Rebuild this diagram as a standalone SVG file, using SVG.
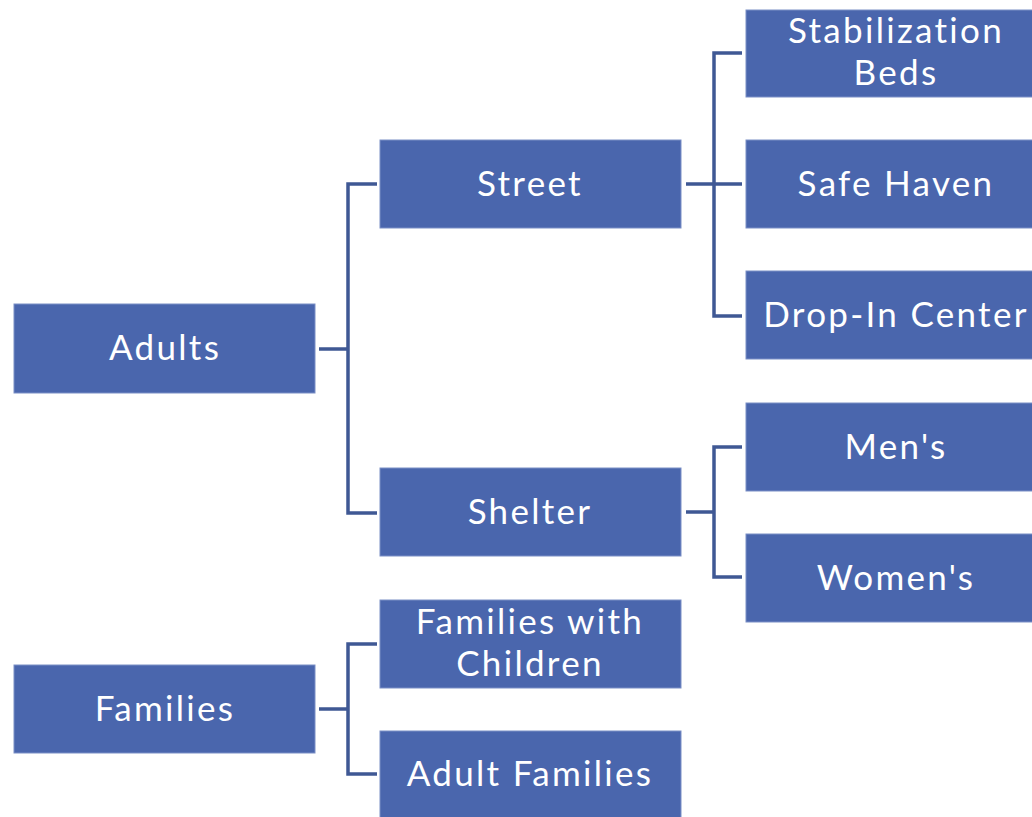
<svg xmlns="http://www.w3.org/2000/svg" width="1032" height="817" viewBox="0 0 1032 817">
<style>
.box{fill:#4a66ad;stroke:#7b8fc6;stroke-width:1}
.lbl{fill:#ffffff;font-family:"Lato","Open Sans",sans-serif;font-size:35px;text-anchor:middle;dominant-baseline:central;letter-spacing:2.3px}
.con{fill:none;stroke:#3f5894;stroke-width:3.5}
</style>
<rect width="1032" height="817" fill="#ffffff"/>
<g id="connectors">
<path class="con" d="M319 349H348M377 184H348V513H377"/>
<path class="con" d="M686 184H714M742 53H714V316H742M714 184H742"/>
<path class="con" d="M686 512H714M742 447H714V577H742"/>
<path class="con" d="M319 709H348M377 644H348V774H377"/>
</g>
<g id="adults"><rect class="box" x="14" y="304" width="301" height="89"/><text class="lbl" x="165" y="346">Adults</text></g>
<g id="families"><rect class="box" x="14" y="665" width="301" height="88"/><text class="lbl" x="165" y="707">Families</text></g>
<g id="street"><rect class="box" x="380" y="140" width="301" height="88"/><text class="lbl" x="530" y="182">Street</text></g>
<g id="shelter"><rect class="box" x="380" y="468" width="301" height="88"/><text class="lbl" x="530" y="510">Shelter</text></g>
<g id="families-with-children"><rect class="box" x="380" y="600" width="301" height="88"/><text class="lbl" x="530" y="620">Families with</text><text class="lbl" x="530" y="662">Children</text></g>
<g id="adult-families"><rect class="box" x="380" y="731" width="301" height="90"/><text class="lbl" x="530" y="772">Adult Families</text></g>
<g id="stabilization-beds"><rect class="box" x="746" y="10" width="301" height="87"/><text class="lbl" x="896" y="29">Stabilization</text><text class="lbl" x="896" y="71">Beds</text></g>
<g id="safe-haven"><rect class="box" x="746" y="140" width="301" height="88"/><text class="lbl" x="896" y="182">Safe Haven</text></g>
<g id="drop-in-center"><rect class="box" x="746" y="271" width="301" height="88"/><text class="lbl" x="896" y="313">Drop-In Center</text></g>
<g id="mens"><rect class="box" x="746" y="403" width="301" height="88"/><text class="lbl" x="896" y="445">Men's</text></g>
<g id="womens"><rect class="box" x="746" y="534" width="301" height="88"/><text class="lbl" x="896" y="576">Women's</text></g>
</svg>
